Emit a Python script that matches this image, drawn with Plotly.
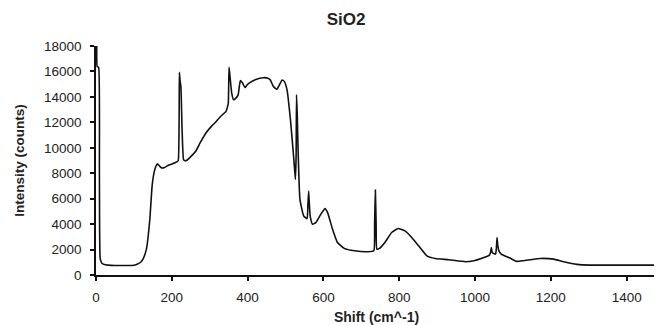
import plotly.graph_objects as go

shift = [2, 3, 7, 9, 11, 15, 25, 40, 80, 100, 110, 119, 124, 133, 142, 148, 153, 158, 162, 168, 173,
         181, 191, 200, 213, 217, 220, 222, 224, 227, 231, 235, 240, 250, 263, 275, 290, 305, 317, 330,
         343, 346, 349, 351, 354, 358, 363, 369, 375, 378, 381, 387, 393, 399, 406, 420, 442, 455, 460,
         468, 477, 484, 491, 497, 504, 513, 522, 526, 528, 529, 531, 532, 538, 548, 557, 559, 561, 563,
         565, 571, 580, 593, 604, 611, 624, 637, 655, 682, 717, 733, 735, 737, 739, 741, 748, 762, 780,
         797, 815, 833, 851, 873, 895, 931, 975, 997, 1020, 1038, 1041, 1043, 1045, 1047, 1054, 1056,
         1058, 1060, 1063, 1069, 1092, 1109, 1127, 1150, 1172, 1207, 1234, 1269, 1305, 1394, 1480]
intensity = [18000, 16400, 16300, 8000, 1300, 950, 800, 760, 750, 770, 860, 1040, 1250, 2030, 4380, 6990,
             8030, 8550, 8735, 8550, 8420, 8450, 8630, 8720, 8890, 9000, 15930, 15200, 14810, 11500, 9070,
             8980, 9020, 9300, 9725, 10400, 11160, 11700, 12070, 12500, 12860, 13115, 13500, 16320, 15460,
             14300, 13770, 13900, 14160, 14800, 15280, 15070, 14730, 14950, 15120, 15350, 15510, 15450,
             15330, 14810, 14600, 14950, 15330, 15200, 14550, 12200, 9070, 7510, 9500, 14160, 12500, 11160,
             5950, 4640, 4430, 5500, 6600, 5500, 4640, 3990, 4120, 4770, 5215, 4900, 3600, 2555, 2090, 1900,
             1825, 1900, 4000, 6675, 4000, 2030, 2090, 2555, 3340, 3650, 3470, 2950, 2295, 1510, 1300, 1200,
             1040, 1120, 1330, 1565, 1800, 2160, 1800, 1720, 1640, 2000, 2950, 2300, 1900, 1640, 1330, 1070,
             1120, 1220, 1300, 1250, 1040, 834, 780, 780, 780]

x_ticks = [0, 200, 400, 600, 800, 1000, 1200, 1400]
y_ticks = [0, 2000, 4000, 6000, 8000, 10000, 12000, 14000, 16000, 18000]

font_family = "Liberation Sans, Arial, sans-serif"

fig = go.Figure()
fig.add_trace(go.Scatter(x=shift, y=intensity, mode="lines",
                         line=dict(color="#111111", width=1.6, shape="spline", smoothing=0.4),
                         showlegend=False))

# page has an 8px body margin, so the figure is sized to 654x317
W, H = 654, 317
fig.update_layout(
    width=W, height=H,
    margin=dict(l=88, r=5, t=38, b=50),
    paper_bgcolor="white", plot_bgcolor="white",
    font=dict(family=font_family, size=13.5, color="#222222"),
    title=dict(text="<b>SiO2</b>", x=338 / W, xref="container", xanchor="center",
               y=1 - 11 / H, yanchor="middle", font=dict(size=17, color="#222222")),
)
fig.update_xaxes(
    range=[0, 1480], tickvals=x_ticks, ticktext=[str(v) for v in x_ticks],
    showgrid=False, zeroline=False, showline=True, linecolor="#111111", linewidth=1.5,
    ticks="outside", ticklen=4, tickwidth=1.5, tickcolor="#111111",
    tickfont=dict(size=13.5), ticklabelstandoff=5, automargin=False,
    title=dict(text="<b>Shift (cm^-1)</b>", font=dict(size=14), standoff=9),
)
fig.update_yaxes(
    range=[0, 18000], tickvals=y_ticks, ticktext=[str(v) for v in y_ticks],
    showgrid=False, zeroline=False, showline=True, linecolor="#111111", linewidth=1.5,
    ticks="outside", ticklen=4, tickwidth=1.5, tickcolor="#111111",
    tickfont=dict(size=13.5), ticklabelstandoff=6, automargin=False,
    title=dict(text="<b>Intensity (counts)</b>", font=dict(size=13.5), standoff=16),
)

fig.write_html("out.html")
